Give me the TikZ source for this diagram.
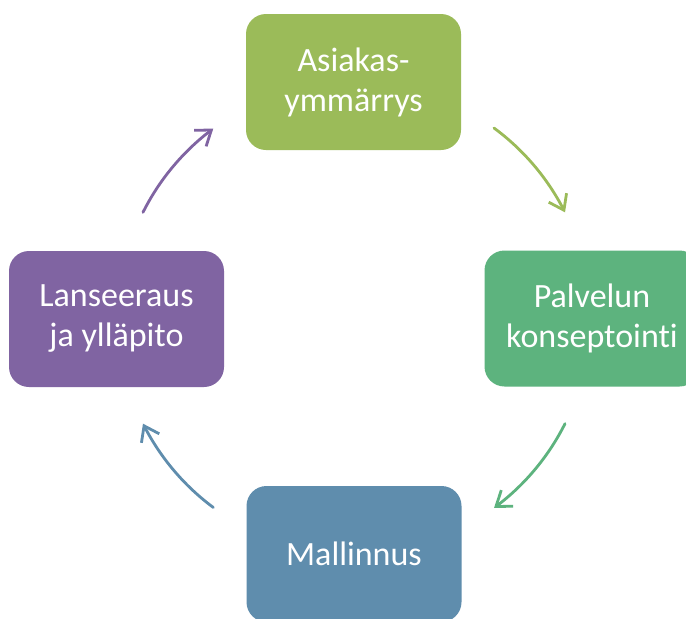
\documentclass[tikz,border=0pt]{standalone}
\usepackage{fontspec}
\setmainfont{Carlito}[Ligatures=NoCommon]
\usetikzlibrary{arrows.meta,bending}
\definecolor{cA}{HTML}{9BBB59}
\definecolor{cB}{HTML}{5DB37E}
\definecolor{cC}{HTML}{5F8DAD}
\definecolor{cD}{HTML}{8064A2}
\tikzset{
  stagebox/.style={fill=#1, draw=none, rounded corners=20pt, minimum width=215pt, minimum height=136pt,
    inner sep=0pt, text=white, align=center, font=\fontsize{34}{40}\selectfont},
  cyclearrow/.style={draw=#1, line width=2.8pt, line cap=round,
    -{Straight Barb[length=14pt,width=20pt,line width=2.8pt,flex]}}
}
\begin{document}
\begin{tikzpicture}[x=1pt,y=-1pt]
\path[use as bounding box, clip] (0,0) rectangle (686,619);
\fill[white] (0,0) rectangle (686,619);
\node[stagebox=cA] (asia) at (353.5,82) {Asiakas-\\ymmärrys};
\node[stagebox=cB] (palv) at (592,318.5) {Palvelun\\konseptointi};
\node[stagebox=cC] (mall) at (354,554) {Mallinnus};
\node[stagebox=cD] (lans) at (116.5,319) {Lanseeraus\\ja ylläpito};
\coordinate (c) at (354,318);
\draw[cyclearrow=cA] ([shift={(-53.6:236)}]c) arc[start angle=-53.6, end angle=-26.6, radius=236];
\draw[cyclearrow=cB] ([shift={(26.6:236)}]c) arc[start angle=26.6, end angle=53.6, radius=236];
\draw[cyclearrow=cC] ([shift={(126.6:236)}]c) arc[start angle=126.6, end angle=153.4, radius=236];
\draw[cyclearrow=cD] ([shift={(206.6:236)}]c) arc[start angle=206.6, end angle=233.4, radius=236];
\end{tikzpicture}
\end{document}
